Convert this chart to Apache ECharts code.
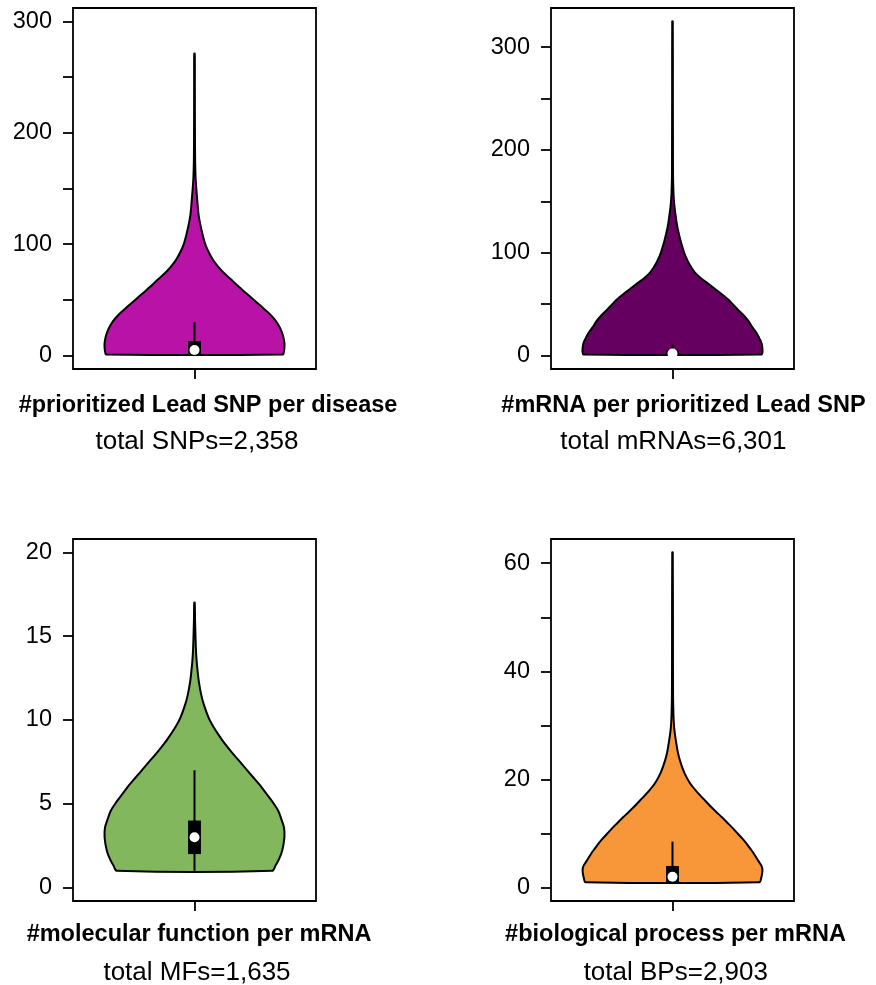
<!DOCTYPE html>
<html><head><meta charset="utf-8">
<script src="https://cdn.jsdelivr.net/npm/echarts@6/dist/echarts.min.js"></script>
<style>html,body{margin:0;padding:0;background:#fff}#c{width:876px;height:985px}</style>
</head><body><div id="c"></div>
<script>
// ---- data ----
const titles = ['#prioritized Lead SNP per disease', '#mRNA per prioritized Lead SNP', '#molecular function per mRNA', '#biological process per mRNA'];
const subtitles = ['total SNPs=2,358', 'total mRNAs=6,301', 'total MFs=1,635', 'total BPs=2,903'];
const colors = ['#B812A6', '#650060', '#82B75E', '#F8963A'];

// y-axis limits (R ylim with 4% expansion)
const yLimits = [[-12, 312], [-13, 338], [-0.8, 20.8], [-2.48, 64.48]];
const yTicks1 = [0, 50, 100, 150, 200, 250, 300];
const yLabels1 = [0, 100, 200, 300];
const yTicks2 = [0, 50, 100, 150, 200, 250, 300];
const yLabels2 = [0, 100, 200, 300];
const yTicks3 = [0, 5, 10, 15, 20];
const yLabels3 = [0, 5, 10, 15, 20];
const yTicks4 = [0, 10, 20, 30, 40, 50, 60];
const yLabels4 = [0, 20, 40, 60];

// violin density outlines: [value, relative density]
const densityLeadSNP = [[1,0.985],[3,0.993],[7,1.0],[11.4,1.0],[16,0.99],[20.3,0.975],[25,0.95],[29.3,0.92],[34,0.875],[38.3,0.825],[44,0.745],[50,0.66],[56,0.575],[62,0.49],[67,0.425],[71,0.37],[76,0.305],[80,0.26],[86,0.205],[95,0.145],[102,0.112],[110,0.086],[118,0.064],[125,0.048],[132,0.038],[140,0.03],[150,0.02],[160,0.012],[175,0.007],[200,0.005],[240,0.004],[271,0.003]];
const densityMRNA = [[1,0.99],[3,1.0],[7,1.0],[12.3,0.99],[17,0.965],[22,0.935],[28,0.885],[33,0.85],[38.3,0.8],[44,0.735],[49,0.68],[54.5,0.62],[60,0.545],[65,0.47],[70.7,0.385],[75,0.32],[80,0.258],[85,0.215],[90,0.18],[95,0.153],[100,0.13],[110,0.095],[119.4,0.068],[128,0.048],[136,0.035],[145,0.022],[152,0.015],[160,0.01],[175,0.006],[200,0.005],[260,0.004],[325,0.003]];
const densityMF = [[1,0.863],[1.3,0.9],[1.7,0.94],[2.2,0.975],[3,1.0],[3.6,0.995],[4.1,0.965],[4.6,0.93],[5.1,0.87],[5.6,0.8],[6.1,0.73],[6.6,0.65],[7.1,0.57],[7.6,0.49],[8.1,0.41],[8.6,0.335],[9.1,0.27],[9.6,0.21],[10.1,0.16],[10.9,0.105],[11.5,0.075],[12.3,0.048],[13,0.033],[13.5,0.024],[14.2,0.016],[15,0.011],[16,0.006],[17,0.003]];
const densityBP = [[1,0.968],[1.7,0.985],[2.4,0.995],[3.3,1.0],[4,0.99],[4.8,0.96],[5.6,0.93],[6.4,0.9],[7.2,0.865],[8,0.83],[9,0.78],[10,0.725],[11,0.67],[12,0.61],[13,0.55],[14,0.487],[15,0.425],[15.6,0.39],[16.4,0.345],[17.2,0.3],[18,0.257],[18.7,0.222],[19.5,0.188],[20.3,0.16],[21.5,0.125],[23.4,0.085],[25,0.06],[26.4,0.045],[28,0.03],[29.5,0.019],[31,0.013],[33,0.009],[36,0.006],[45,0.005],[62,0.003]];

// box stats: [lower whisker, Q1, median, Q3, upper whisker]
const boxLeadSNP = [1, 1, 5, 13, 30];
const boxMRNA = [1, 1, 2, 5, 11];
const boxMF = [1, 2, 3, 4, 7];
const boxBP = [1, 1, 2, 4, 8.5];

// ---- build ----
const densities = [densityLeadSNP, densityMRNA, densityMF, densityBP];
const boxes = [boxLeadSNP, boxMRNA, boxMF, boxBP];
const yTicks = [yTicks1, yTicks2, yTicks3, yTicks4];
const yLabels = [yLabels1, yLabels2, yLabels3, yLabels4];

const VW = 0.74;   // max violin half-width in x-axis units
const BW = 0.053;  // box half-width in x-axis units
const FONT = '"Liberation Sans", Arial, Helvetica, sans-serif';

const gridRects = [
  {left: 73, top: 8, width: 243, height: 361},
  {left: 551, top: 8, width: 243, height: 361},
  {left: 73, top: 539, width: 243, height: 362},
  {left: 551, top: 539, width: 243, height: 362}
];
const titlePos = [[208, 406], [683.5, 406], [199, 935], [675.5, 935]];
const subPos = [[197, 442], [673.4, 442], [197, 973], [675.8, 973]];

const grid = gridRects.map(r => Object.assign({
  show: true, borderColor: '#000', borderWidth: 1.8, backgroundColor: 'transparent',
  containLabel: false, outerBoundsMode: 'none'
}, r));

const xAxis = gridRects.map((r, i) => ({
  type: 'value', gridIndex: i, min: -1, max: 1, position: 'bottom',
  axisLine: {show: false, onZero: false}, splitLine: {show: false},
  axisLabel: {show: false},
  axisTick: {show: true, customValues: [0], length: 10, lineStyle: {color: '#000', width: 1.8}}
}));

const yAxis = gridRects.map((r, i) => ({
  type: 'value', gridIndex: i, min: yLimits[i][0], max: yLimits[i][1], position: 'left',
  axisLine: {show: false, onZero: false}, splitLine: {show: false},
  axisTick: {show: true, customValues: yTicks[i], length: 10, lineStyle: {color: '#000', width: 1.8}},
  axisLabel: {show: true, customValues: yLabels[i], fontSize: 23.5, color: '#000', fontFamily: FONT, margin: 21}
}));

const series = gridRects.map((r, i) => ({
  type: 'custom', xAxisIndex: i, yAxisIndex: i, data: [[0, 0]], silent: true, clip: false,
  renderItem: function (params, api) {
    const d = densities[i];
    const right = d.map(p => api.coord([p[1] * VW, p[0]]));
    const left = d.slice().reverse().map(p => api.coord([-p[1] * VW, p[0]]));
    const pts = right.concat(left);
    const s = boxes[i];
    const wLo = api.coord([0, s[0]]), wHi = api.coord([0, s[4]]);
    const bTL = api.coord([-BW, s[3]]), bBR = api.coord([BW, s[1]]);
    const m = api.coord([0, s[2]]);
    return {type: 'group', children: [
      {type: 'polygon', shape: {points: pts, smooth: 0.3}, style: {fill: colors[i], stroke: '#000', lineWidth: 2}},
      {type: 'line', shape: {x1: wLo[0], y1: wLo[1], x2: wHi[0], y2: wHi[1]}, style: {stroke: '#000', lineWidth: 2}},
      {type: 'rect', shape: {x: bTL[0], y: bTL[1], width: bBR[0] - bTL[0], height: Math.max(bBR[1] - bTL[1], 0)}, style: {fill: '#000'}},
      {type: 'circle', shape: {cx: m[0], cy: m[1], r: 5}, style: {fill: '#fff'}}
    ]};
  }
}));

const graphic = [];
titles.forEach((t, i) => graphic.push({type: 'text', x: titlePos[i][0], y: titlePos[i][1], silent: true,
  style: {text: t, fontSize: 23.5, fontWeight: 'bold', fontFamily: FONT, fill: '#000', align: 'center', verticalAlign: 'middle', textAlign: 'center', textVerticalAlign: 'middle'}}));
subtitles.forEach((t, i) => graphic.push({type: 'text', x: subPos[i][0], y: subPos[i][1], silent: true,
  style: {text: t, fontSize: 26, fontFamily: FONT, fill: '#000', align: 'center', verticalAlign: 'middle', textAlign: 'center', textVerticalAlign: 'middle'}}));

const chart = echarts.init(document.getElementById('c'), null, {renderer: 'canvas'});
chart.setOption({
  animation: false,
  backgroundColor: '#fff',
  grid, xAxis, yAxis, series, graphic
});
</script>
</body></html>
